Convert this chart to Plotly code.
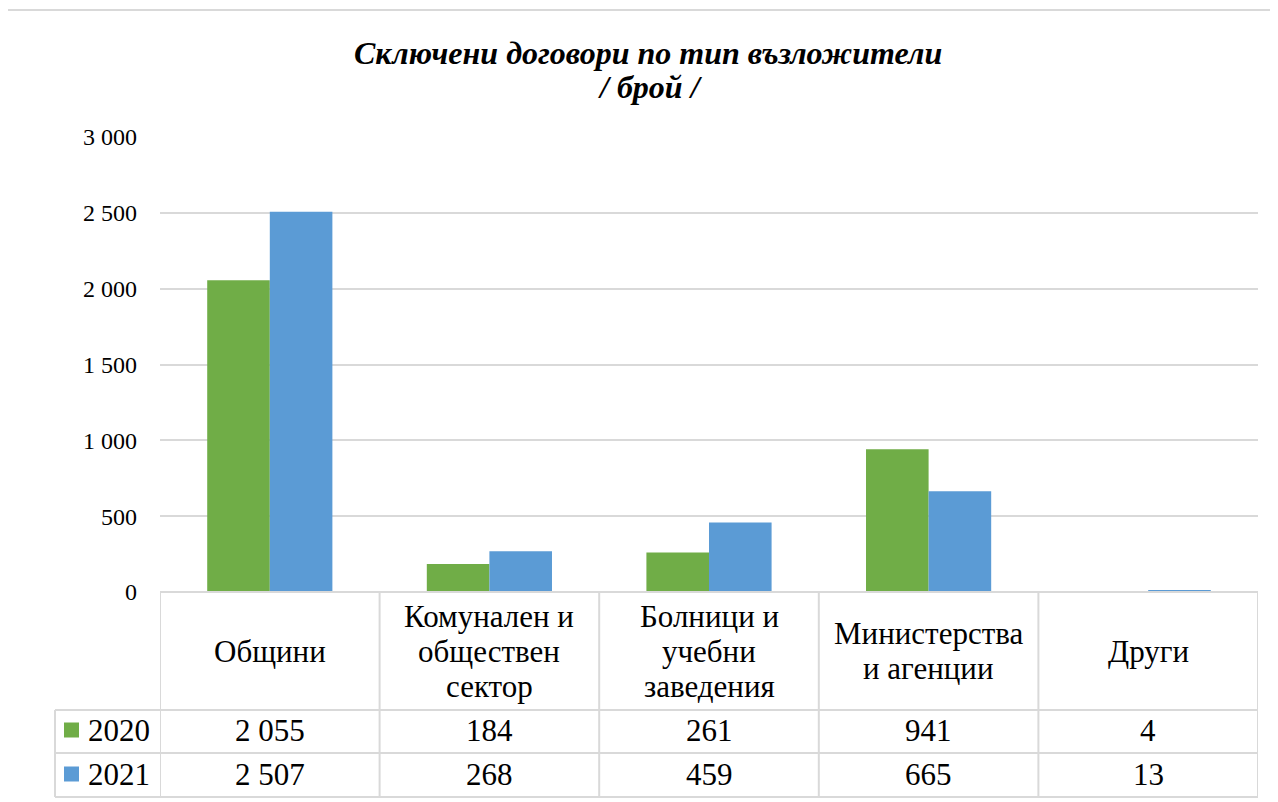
import plotly.graph_objects as go

categories = ["Общини", "Комунален и<br>обществен<br>сектор", "Болници и<br>учебни<br>заведения",
              "Министерства<br>и агенции", "Други"]
years = ["2020", "2021"]
values_2020 = [2055, 184, 261, 941, 4]
values_2021 = [2507, 268, 459, 665, 13]
colors = ["#70ad47", "#5b9bd5"]
title_lines = ["Сключени договори по тип възложители", "/ брой /"]

series = [values_2020, values_2021]

# page pixels (the page body adds an 8px offset to the figure)
OFF = 8
L, R, T, B = 160, 1258, 137, 592
W, H = R - L, B - T
FW, FH = 1278, 802


def px(x):
    return (x - L) / W


def py(y):
    return (B - y) / H


def fmt(v):
    return f"{v:,}".replace(",", " ")


fig = go.Figure()
for name, vals, col in zip(years, series, colors):
    fig.add_trace(go.Bar(x=list(range(len(categories))), y=vals, name=name,
                         marker=dict(color=col, line=dict(width=0))))

serif = "Liberation Serif"
grid = "#d9d9d9"
shapes = []
annotations = []

# outer chart frame
shapes.append(dict(type="rect", xref="paper", yref="paper", x0=px(4), x1=px(1300),
                   y0=py(830), y1=py(10), line=dict(color="#d9d9d9", width=2), layer="below"))

# title, one annotation per line
for line, yc, xc in zip(title_lines, [53, 87], [648, 650]):
    annotations.append(dict(x=px(xc), y=py(yc), xref="paper", yref="paper",
                            text=f"<b><i>{line}</i></b>", showarrow=False,
                            xanchor="center", yanchor="middle",
                            font=dict(family=serif, size=32, color="black")))

# table grid (header, 2020, 2021)
LEG = 55
row_edges = [592, 710, 753, 797]
for y in row_edges:
    x0 = L if y == 592 else LEG
    shapes.append(dict(type="line", xref="paper", yref="paper", x0=px(x0), x1=px(R),
                       y0=py(y), y1=py(y), line=dict(color=grid, width=2)))
for i in range(len(categories) + 1):
    shapes.append(dict(type="line", xref="x", yref="paper", x0=i - 0.5, x1=i - 0.5,
                       y0=py(592), y1=py(797), line=dict(color=grid, width=2)))
shapes.append(dict(type="line", xref="paper", yref="paper", x0=px(LEG), x1=px(LEG),
                   y0=py(710), y1=py(797), line=dict(color=grid, width=2)))

tfont = dict(family=serif, size=31, color="black")

# header labels, each line placed separately
LINE = 35
for i, c in enumerate(categories):
    parts = c.split("<br>")
    top = 651 - LINE * (len(parts) - 1) / 2
    for k, part in enumerate(parts):
        annotations.append(dict(x=i, y=py(top + k * LINE), xref="x", yref="paper", text=part,
                                showarrow=False, xanchor="center", yanchor="middle", font=tfont))

# value rows with legend keys
row_centers = [730, 774]
for name, vals, col, yc in zip(years, series, colors, row_centers):
    shapes.append(dict(type="rect", xref="paper", yref="paper", x0=px(64), x1=px(79),
                       y0=py(yc + 7.5), y1=py(yc - 7.5), fillcolor=col, line=dict(width=0)))
    annotations.append(dict(x=px(86), y=py(yc), xref="paper", yref="paper", text=name,
                            showarrow=False, xanchor="left", yanchor="middle", font=tfont))
    for i, v in enumerate(vals):
        annotations.append(dict(x=i, y=py(yc), xref="x", yref="paper", text=fmt(v),
                                showarrow=False, xanchor="center", yanchor="middle", font=tfont))

fig.update_layout(
    width=FW, height=FH,
    margin=dict(l=L - OFF, r=FW + OFF - R, t=T - OFF, b=FH + OFF - B),
    paper_bgcolor="white", plot_bgcolor="white",
    separators=", ",
    showlegend=False,
    barmode="group", bargap=0.43, bargroupgap=0,
    xaxis=dict(range=[-0.5, len(categories) - 0.5], showticklabels=False, showgrid=False,
               zeroline=False, showline=False, ticks=""),
    yaxis=dict(range=[0, 3000], dtick=500, tickformat=",d", showgrid=True, gridcolor=grid,
               gridwidth=1.5, zeroline=False, showline=False, ticks="", ticklabelstandoff=22,
               tickfont=dict(family=serif, size=24, color="black")),
    shapes=shapes, annotations=annotations,
)

fig.write_html("out.html")
